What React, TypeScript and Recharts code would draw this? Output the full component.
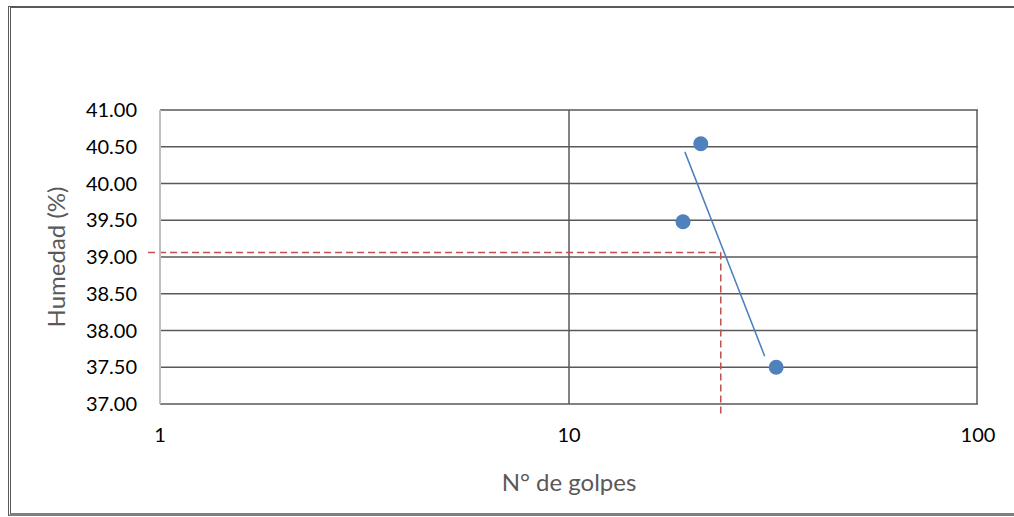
import { CartesianGrid, Label, ReferenceLine, Scatter, ScatterChart, XAxis, YAxis } from 'recharts';

// ensayo de limite liquido: humedad vs numero de golpes
const golpes = [21.0, 19.0, 32.1];
const humedad = [40.54, 39.48, 37.5];
const trendGolpes = [19.2, 30.1];
const trendHumedad = [40.43, 37.65];
const xTicks = [1, 10, 100];
const yTicks = [37, 37.5, 38, 38.5, 39, 39.5, 40, 40.5, 41];
const golpesLL = 23.5;
const humedadLL = 39.06;

const FONT = 'Lato, "Open Sans", sans-serif';
const GRID = '#595959';
const BLUE = '#4f81bd';
const RED = '#c0504d';

const puntos = golpes.map((g, i) => ({ x: g, y: humedad[i] }));
const tendencia = trendGolpes.map((g, i) => ({ x: g, y: trendHumedad[i] }));

const Dot = (p: any) => <circle cx={p.cx} cy={p.cy} r={7.5} fill={BLUE} />;

export default function App() {
  return (
    <div
      style={{
        position: 'absolute',
        left: 0,
        top: 0,
        width: 1014,
        height: 517,
        background: 'white',
        fontFamily: FONT,
      }}
    >
      {/* marco del grafico */}
      <div
        style={{
          position: 'absolute',
          left: 8,
          top: 6,
          width: 1004,
          height: 505,
          borderTop: `2px solid ${GRID}`,
          borderLeft: `3px double ${GRID}`,
          borderBottom: `3px solid #7f7f7f`,
          borderRight: '1px solid #e6e6e6',
        }}
      />
      <div style={{ position: 'absolute', left: 0, top: 0 }}>
        <ScatterChart width={1014} height={517} margin={{ top: 110, right: 36, bottom: 0, left: 0 }}>
          <CartesianGrid stroke={GRID} strokeWidth={1.5} verticalPoints={[569, 977]} />
          <XAxis
            type="number"
            dataKey="x"
            scale="log"
            domain={[1, 100]}
            ticks={xTicks}
            allowDataOverflow
            height={113}
            axisLine={false}
            tickLine={false}
            tickSize={0}
            tickMargin={24}
            tick={{ fill: '#000', fontSize: 20, fontFamily: FONT }}
          >
            <Label value="N° de golpes" position="center" dy={22} fill={GRID} fontSize={24} fontFamily={FONT} />
          </XAxis>
          <YAxis
            type="number"
            dataKey="y"
            domain={[37, 41]}
            ticks={yTicks}
            allowDataOverflow
            width={160}
            axisLine={{ stroke: '#bfbfbf', strokeWidth: 2 }}
            tickLine={false}
            tickSize={0}
            tickMargin={23}
            tickFormatter={(v: number) => v.toFixed(2)}
            tick={{ fill: '#000', fontSize: 20, fontFamily: FONT }}
          >
            <Label value="Humedad (%)" position="center" angle={-90} dx={-24} fill={GRID} fontSize={24} fontFamily={FONT} />
          </YAxis>
          <ReferenceLine
            segment={[{ x: 0.935, y: humedadLL }, { x: golpesLL, y: humedadLL }]}
            stroke={RED}
            strokeWidth={1.5}
            strokeDasharray="7 4"
            ifOverflow="visible"
          />
          <ReferenceLine
            segment={[{ x: golpesLL, y: humedadLL }, { x: golpesLL, y: 36.865 }]}
            stroke={RED}
            strokeWidth={1.5}
            strokeDasharray="7 4"
            ifOverflow="visible"
          />
          <Scatter
            data={tendencia}
            line={{ stroke: '#4a7ebb', strokeWidth: 1.5 }}
            shape={() => <g />}
            isAnimationActive={false}
          />
          <Scatter data={puntos} shape={Dot} isAnimationActive={false} />
        </ScatterChart>
      </div>
    </div>
  );
}
